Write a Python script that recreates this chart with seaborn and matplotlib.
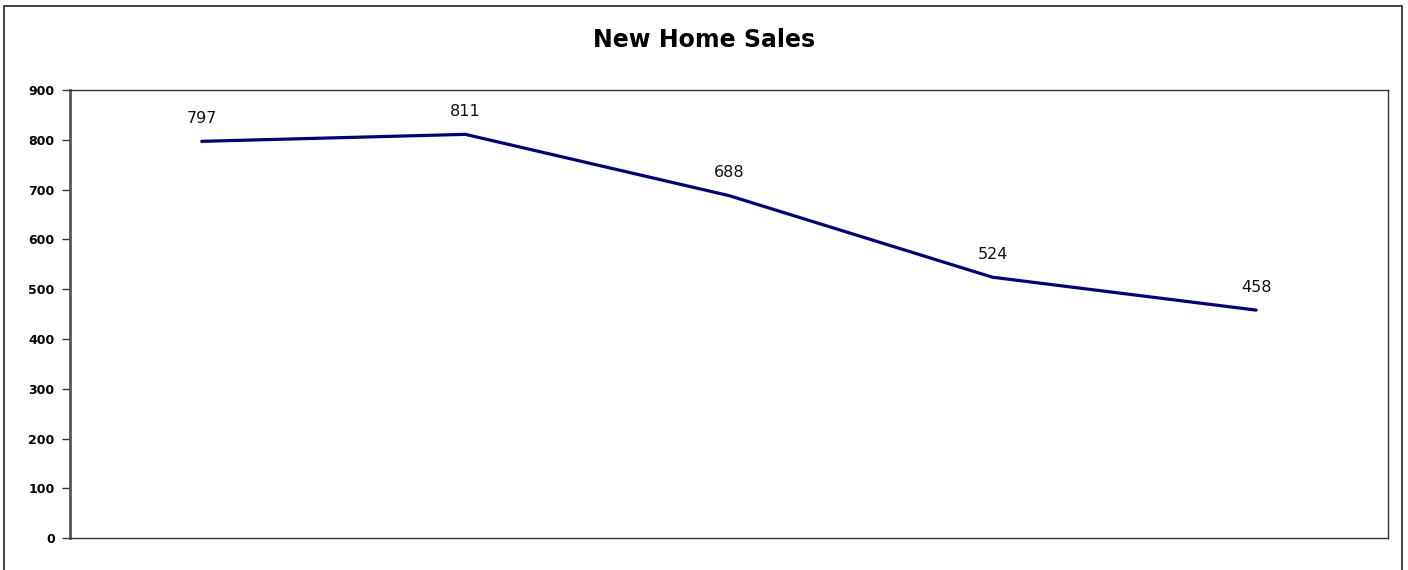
import pandas as pd
import matplotlib.pyplot as plt
import seaborn as sns
from matplotlib.patches import Rectangle

periods = ['P1', 'P2', 'P3', 'P4', 'P5']
sales = [797, 811, 688, 524, 458]

df = pd.DataFrame({'period': range(len(periods)), 'sales': sales})

sns.set_style('white')
plt.rcParams['font.family'] = ['DejaVu Sans']
plt.rcParams['text.color'] = 'black'

fig = plt.figure(figsize=(14.08, 5.70), dpi=100)
ax = fig.add_axes([0.0497, 0.056, 0.936, 0.786])

sns.lineplot(data=df, x='period', y='sales', color='#000080', linewidth=2.3, ax=ax)

for x, y in zip(df['period'], df['sales']):
    ax.annotate(str(y), (x, y), xytext=(0, 11), textcoords='offset points',
                ha='center', va='bottom', fontsize=11.5, color='#111111')

ax.set_xlim(-0.5, 4.5)
ax.set_ylim(0, 900)
ax.set_yticks(range(0, 901, 100))
ax.set_yticklabels([str(v) for v in range(0, 901, 100)], fontweight='bold', fontsize=9, color='black')
ax.set_xticks([])
ax.set_xlabel('')
ax.set_ylabel('')
ax.tick_params(axis='y', direction='out', length=6, width=1, color='#333333', left=True, pad=5)

for side in ['top', 'right', 'bottom']:
    ax.spines[side].set_color('#333333')
    ax.spines[side].set_linewidth(1)
ax.spines['left'].set_color('#555555')
ax.spines['left'].set_linewidth(2)

fig.text(0.5, 0.93, 'New Home Sales', ha='center', va='center', fontsize=17,
         fontweight='bold', color='black')

# outer chart border
fig.patches.append(Rectangle((0.003, -0.05), 0.993, 1.04, transform=fig.transFigure,
                             fill=False, edgecolor='#222222', linewidth=1.2, clip_on=False))

fig.savefig('out.png', dpi=100)
